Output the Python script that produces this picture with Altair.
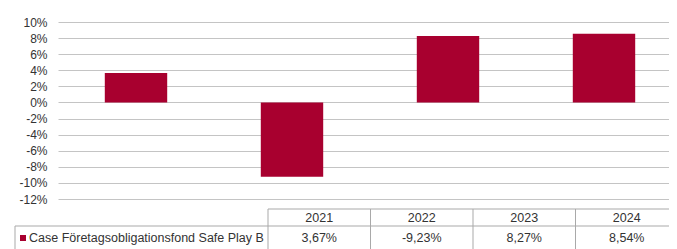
import altair as alt
import pandas as pd

# ---- data ----
years = ["2021", "2022", "2023", "2024"]
returns = [3.67, -9.23, 8.27, 8.54]
series_name = "Case Företagsobligationsfond Safe Play B"
y_ticks = [10, 8, 6, 4, 2, 0, -2, -4, -6, -8, -10, -12]

BAR = "#a8002f"
TXT = "#333333"
GRID = "#c4c4c4"
LINE = "#a9a9a9"
FONT = "Liberation Sans"

bars_df = pd.DataFrame({"year": years, "value": returns})

# table pieces (column index / row index through scales)
hdr_df = pd.DataFrame({"col": [i + 0.5 for i in range(len(years))], "row": [0.5] * len(years), "label": years})
val_df = pd.DataFrame({
    "col": [i + 0.5 for i in range(len(years))],
    "row": [1.5] * len(years),
    "label": [f"{v:.2f}".replace(".", ",") + "%" for v in returns],
})
leg_df = pd.DataFrame({"col": [-1], "row": [1.5], "label": [series_name]})

lines = [
    {"x": 0, "x2": len(years), "y": 0, "y2": 0},
    {"x": -1, "x2": len(years), "y": 1, "y2": 1},
    {"x": -1, "x2": -1, "y": 1, "y2": 2},
]
for i in range(len(years)):
    lines.append({"x": i, "x2": i, "y": 0, "y2": 2})
lines_df = pd.DataFrame(lines)

tx = alt.Scale(domain=[-1, 0, 4], range=[-43, 210, 620], nice=False, zero=False)
ty = alt.Scale(domain=[0, 1, 2], range=[187, 204, 228], nice=False, zero=False)

bars = alt.Chart(bars_df).mark_bar(color=BAR).encode(
    x=alt.X("year:N", sort=years, axis=None,
            scale=alt.Scale(range=[0, 624], paddingInner=0.6, paddingOuter=0.3)),
    y=alt.Y("value:Q",
            scale=alt.Scale(domain=[-12, 10], nice=False, zero=False),
            axis=alt.Axis(values=y_ticks, labelExpr="datum.value + '%'", title=None,
                          domain=False, ticks=False, tickSize=0, labelPadding=11,
                          grid=True, gridColor=GRID, gridWidth=1,
                          labelFont=FONT, labelFontSize=12, labelColor=TXT)),
)

rules = alt.Chart(lines_df).mark_rule(color=LINE, strokeWidth=1).encode(
    x=alt.X("x:Q", scale=tx, axis=None),
    x2="x2",
    y=alt.Y("y:Q", scale=ty, axis=None),
    y2="y2",
)

hdr = alt.Chart(hdr_df).mark_text(font=FONT, fontSize=12.5, color=TXT, align="center", baseline="middle").encode(
    x=alt.X("col:Q", scale=tx, axis=None),
    y=alt.Y("row:Q", scale=ty, axis=None),
    text="label:N",
)
vals = alt.Chart(val_df).mark_text(font=FONT, fontSize=12.5, color=TXT, align="center", baseline="middle").encode(
    x=alt.X("col:Q", scale=tx, axis=None),
    y=alt.Y("row:Q", scale=ty, axis=None),
    text="label:N",
)
leg_sq = alt.Chart(leg_df).mark_square(color=BAR, opacity=1, size=36, xOffset=8).encode(
    x=alt.X("col:Q", scale=tx, axis=None),
    y=alt.Y("row:Q", scale=ty, axis=None),
)
leg_txt = alt.Chart(leg_df).mark_text(font=FONT, fontSize=12.5, color=TXT, align="left", baseline="middle", dx=14).encode(
    x=alt.X("col:Q", scale=tx, axis=None),
    y=alt.Y("row:Q", scale=ty, axis=None),
    text="label:N",
)

chart = alt.layer(bars, rules, hdr, vals, leg_sq, leg_txt).resolve_scale(
    x="independent", y="independent"
).properties(
    width=611, height=177,
    autosize=alt.AutoSizeParams(type="none"),
    padding={"left": 50, "top": 14, "right": 0, "bottom": 50},
    background="white",
).configure_view(stroke=None)

chart.save("out.html", embed_options={"renderer": "svg", "actions": False})
